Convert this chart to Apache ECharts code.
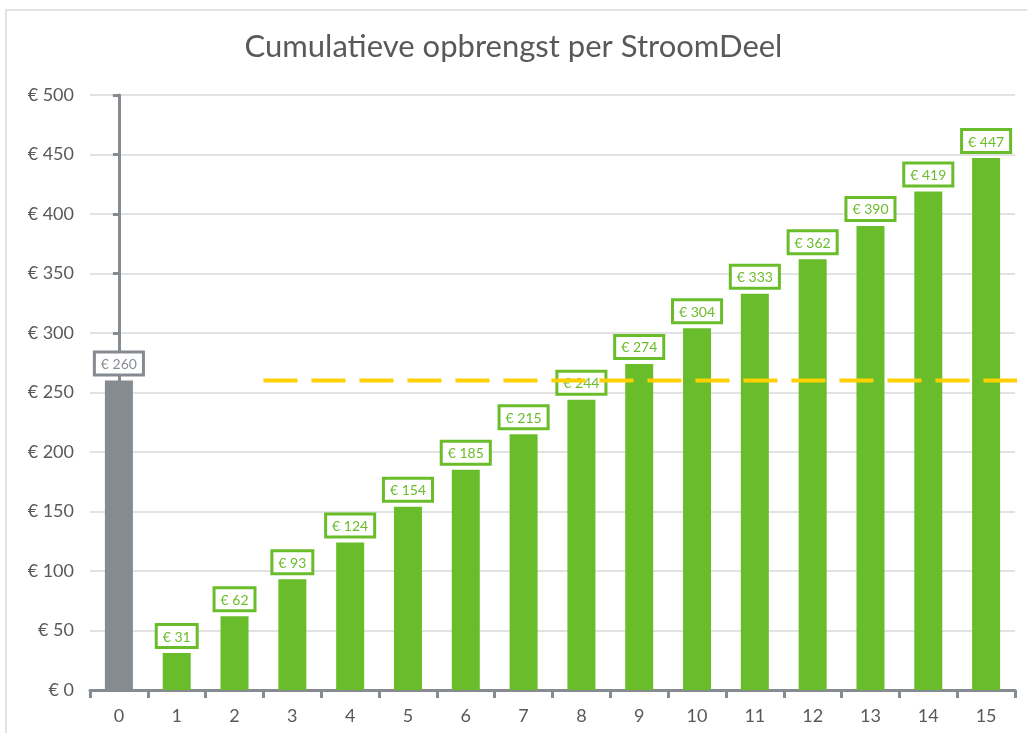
<!DOCTYPE html>
<html>
<head>
<meta charset="utf-8">
<script src="https://cdn.jsdelivr.net/npm/echarts@6/dist/echarts.min.js"></script>
<style>
  html, body { margin: 0; padding: 0; background: #fff; }
  #chart { width: 1027px; height: 733px; }
</style>
</head>
<body>
<div id="chart"></div>
<script>
const categories = ['0', '1', '2', '3', '4', '5', '6', '7', '8', '9', '10', '11', '12', '13', '14', '15'];
const values = [260, 31, 62, 93, 124, 154, 185, 215, 244, 274, 304, 333, 362, 390, 419, 447];
const investment = 260;
const breakEvenStart = 2.5;
const breakEvenEnd = 15.75;

const green = '#6abd2a';
const grey = '#868a91';
const textGrey = '#595959';

const chart = echarts.init(document.getElementById('chart'));

const barData = values.map((v, i) => {
  const c = i === 0 ? grey : green;
  return {
    value: v,
    itemStyle: { color: c },
    label: { color: i === 0 ? '#8a8e94' : green, borderColor: c }
  };
});

chart.setOption({
  animation: false,
  textStyle: { fontFamily: 'Lato, "Open Sans", sans-serif' },
  title: {
    text: 'Cumulatieve opbrengst per StroomDeel',
    left: 'center',
    top: 26,
    textStyle: { fontSize: 31, fontWeight: 'normal', color: textGrey, fontFamily: 'Lato, sans-serif' }
  },
  graphic: [{
    type: 'polyline',
    shape: { points: [[6, 733], [6, 10], [1027, 10]] },
    style: { stroke: '#d9d9d9', lineWidth: 1.5, fill: null },
    silent: true
  }],
  grid: { left: 90, right: 12, top: 95, bottom: 43 },
  xAxis: [{
    type: 'category',
    data: categories,
    axisLine: { lineStyle: { color: grey, width: 3 } },
    axisTick: { show: true, alignWithLabel: false, length: 8, lineStyle: { color: grey, width: 3 } },
    axisLabel: { color: textGrey, fontSize: 18, margin: 17 }
  }, {
    type: 'value',
    min: -0.5,
    max: 15.5,
    show: false
  }],
  yAxis: {
    type: 'value',
    min: 0,
    max: 500,
    interval: 50,
    axisLine: { show: true, lineStyle: { color: grey, width: 3 } },
    axisTick: { show: true, length: 6, lineStyle: { color: grey, width: 3 } },
    axisLabel: { color: textGrey, fontSize: 18, margin: 16, formatter: v => '€ ' + v },
    splitLine: { lineStyle: { color: '#d9d9d9', width: 1.5 } }
  },
  series: [{
    type: 'bar',
    data: barData,
    barWidth: 28,
    label: {
      show: true,
      position: 'top',
      distance: 7,
      formatter: p => '€ ' + p.value,
      fontSize: 14,
      backgroundColor: '#fff',
      borderWidth: 3,
      padding: [4, 5, 2, 5]
    },
    z: 2
  }, {
    type: 'line',
    xAxisIndex: 1,
    data: [[breakEvenStart, investment], [breakEvenEnd, investment]],
    symbol: 'none',
    clip: false,
    lineStyle: { color: '#ffd000', width: 4, type: [34, 14] },
    z: 5
  }]
});

window.addEventListener('resize', () => chart.resize());
</script>
</body>
</html>
